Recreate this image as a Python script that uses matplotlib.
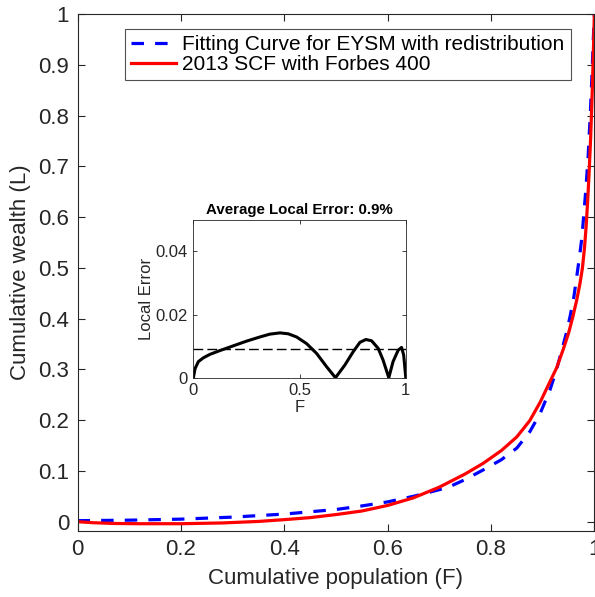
import matplotlib
matplotlib.use("Agg")
import matplotlib.pyplot as plt

# Lorenz curves
F_scf = [0, 0.03, 0.07, 0.12, 0.2, 0.28, 0.35, 0.4, 0.45, 0.5, 0.55, 0.6, 0.65, 0.7,
         0.75, 0.785, 0.82, 0.85, 0.875, 0.895, 0.91, 0.927, 0.94, 0.95, 0.958, 0.966,
         0.972, 0.977, 0.981, 0.984, 0.987, 0.990, 0.993, 0.996, 0.998, 1.0]
L_scf = [0, -0.002, -0.0035, -0.004, -0.004, -0.0025, 0.0005, 0.004, 0.008, 0.014,
         0.021, 0.032, 0.047, 0.068, 0.094, 0.115, 0.140, 0.167, 0.199, 0.235, 0.267,
         0.303, 0.340, 0.371, 0.402, 0.437, 0.468, 0.50, 0.54, 0.58, 0.63, 0.69, 0.76,
         0.85, 0.92, 1.0]

F_fit = [0, 0.1, 0.2, 0.3, 0.4, 0.5, 0.55, 0.6, 0.65, 0.7, 0.72, 0.75, 0.785, 0.82,
         0.85, 0.875, 0.895, 0.914, 0.927, 0.937, 0.946, 0.953, 0.96, 0.966, 0.971,
         0.976, 0.980, 0.984, 0.988, 0.992, 0.995, 0.998, 1.0]
L_fit = [0.002, 0.003, 0.005, 0.009, 0.015, 0.024, 0.031, 0.039, 0.05, 0.063, 0.069,
         0.083, 0.102, 0.122, 0.145, 0.177, 0.213, 0.259, 0.300, 0.338, 0.372, 0.404,
         0.440, 0.483, 0.52, 0.56, 0.61, 0.66, 0.72, 0.80, 0.87, 0.95, 1.0]

# local error (inset)
F_err = [0, 0.008, 0.0235, 0.047, 0.078, 0.125, 0.188, 0.251, 0.313, 0.36, 0.408,
         0.447, 0.486, 0.533, 0.58, 0.627, 0.669, 0.713, 0.752, 0.784, 0.812, 0.839,
         0.87, 0.893, 0.92, 0.94, 0.964, 0.98, 0.99, 1.0]
E_err = [0, 0.0029, 0.0051, 0.0063, 0.0074, 0.0086, 0.0101, 0.0116, 0.0129, 0.0138,
         0.0142, 0.0139, 0.0129, 0.0108, 0.0077, 0.0035, 0, 0.004, 0.0082, 0.0112,
         0.0121, 0.0117, 0.0093, 0.0056, 0, 0.0051, 0.0087, 0.0096, 0.0072, 0]
avg_err = 0.009

plt.rcParams['font.family'] = ['Liberation Sans', 'DejaVu Sans']
plt.rcParams['lines.scale_dashes'] = False
dark = '#262626'

fig = plt.figure(figsize=(5.95, 5.97), dpi=100)
ax = fig.add_axes([0.1303, 0.1111, 0.8686, 0.8655])

ax.plot(F_fit, L_fit, color='blue', lw=2.3, dashes=(9, 8),
        label='Fitting Curve for EYSM with redistribution')
ax.plot(F_scf, L_scf, color='red', lw=2.3, label='2013 SCF with Forbes 400')

ax.set_xlim(0, 1)
ax.set_ylim(-0.0177, 1)
ax.set_xticks([0, 0.2, 0.4, 0.6, 0.8, 1])
ax.set_xticklabels(['0', '0.2', '0.4', '0.6', '0.8', '1'])
ax.set_yticks([i / 10 for i in range(11)])
ax.set_yticklabels(['0', '0.1', '0.2', '0.3', '0.4', '0.5', '0.6', '0.7', '0.8', '0.9', '1'])
ax.tick_params(direction='in', top=True, right=True, length=5, width=0.8,
               labelsize=16, colors=dark, pad=6)
for s in ax.spines.values():
    s.set_color(dark)
    s.set_linewidth(0.8)
ax.set_xlabel('Cumulative population (F)', fontsize=16, color=dark, labelpad=6)
ax.set_ylabel('Cumulative wealth (L)', fontsize=16, color=dark, labelpad=5)

leg = ax.legend(loc='upper right', bbox_to_anchor=(0.954, 0.971), borderaxespad=0,
                fontsize=15, frameon=True, fancybox=False, handlelength=2.15,
                handletextpad=0.3, borderpad=0.3, labelspacing=0.05)
leg.get_frame().set_edgecolor(dark)
leg.get_frame().set_linewidth(0.8)

# inset
ins = fig.add_axes([0.325, 0.3673, 0.357, 0.2645])
ins.plot(F_err, E_err, color='black', lw=2.2)
ins.axhline(avg_err, color='black', lw=1, dashes=(7, 3))
ins.set_xlim(0, 1)
ins.set_ylim(0, 0.05)
ins.set_xticks([0, 0.5, 1])
ins.set_xticklabels(['0', '0.5', '1'])
ins.set_yticks([0, 0.02, 0.04])
ins.set_yticklabels(['0', '0.02', '0.04'])
ins.tick_params(direction='in', top=True, right=True, length=3, width=0.6,
                labelsize=12, colors=dark, pad=4)
for s in ins.spines.values():
    s.set_color(dark)
    s.set_linewidth(0.6)
ins.set_xlabel('F', fontsize=12, color=dark, labelpad=1)
ins.set_ylabel('Local Error', fontsize=12, color=dark, labelpad=1)
ins.set_title('Average Local Error: 0.9%', fontsize=10.8, fontweight='bold', pad=4)

fig.savefig('out.png', dpi=100)
